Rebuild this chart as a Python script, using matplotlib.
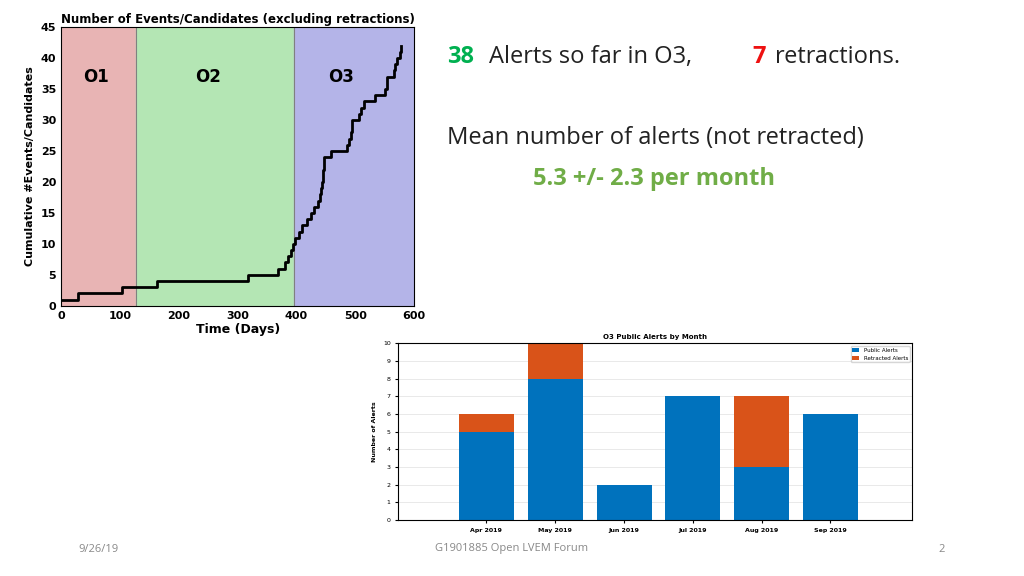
import matplotlib
matplotlib.use("Agg")
import matplotlib.pyplot as plt
import numpy as np

# Cumulative events data (day, cumulative count)
step_days = [1, 28, 103, 163, 317, 368, 380, 385, 390, 394, 397, 404, 410, 417, 425, 430, 436, 439, 441, 443, 445, 447,
             459, 486, 489, 492, 495, 506, 510, 515, 533, 550, 553, 565, 568, 571, 575, 578]
step_counts = [1, 2, 3, 4, 5, 6, 7, 8, 9, 10, 11, 12, 13, 14, 15, 16, 17, 18, 19, 20, 22, 24,
               25, 26, 27, 28, 30, 31, 32, 33, 34, 35, 37, 38, 39, 40, 41, 42]
run_names = ["O1", "O2", "O3"]
run_bounds = [(0, 128), (128, 396), (396, 600)]
run_label_x = [60, 250, 475]
run_colors = ["#e8b4b4", "#b4e6b4", "#b4b4e8"]

months = ["Apr 2019", "May 2019", "Jun 2019", "Jul 2019", "Aug 2019", "Sep 2019"]
public = [5, 8, 2, 7, 3, 6]
retracted = [1, 2, 0, 0, 4, 0]

fig = plt.figure(figsize=(10.24, 5.76), dpi=100)
fig.patch.set_facecolor("white")

ax = fig.add_axes([0.0596, 0.469, 0.345, 0.484])
for name, (a, b), lx, c in zip(run_names, run_bounds, run_label_x, run_colors):
    ax.axvspan(a, b, color=c, zorder=0)
    ax.text(lx, 37, name, ha="center", va="center", fontsize=12, fontweight="bold")
ax.axvline(128, color="#808080", lw=0.8)
ax.axvline(396, color="#808080", lw=0.8)
ax.step(step_days + [step_days[-1]], step_counts + [step_counts[-1]], where="post", color="black", lw=2)
ax.set_xlim(0, 600)
ax.set_ylim(0, 45)
ax.set_xticks(range(0, 601, 100))
ax.set_yticks(range(0, 46, 5))
ax.tick_params(labelsize=8, length=0)
for t in ax.get_xticklabels() + ax.get_yticklabels():
    t.set_fontweight("bold")
ax.set_xlabel("Time (Days)", fontsize=9, fontweight="bold", labelpad=2)
ax.set_ylabel("Cumulative #Events/Candidates", fontsize=8, fontweight="bold")
ax.set_title("Number of Events/Candidates (excluding retractions)", fontsize=8.5, fontweight="bold", pad=3)

bx = fig.add_axes([0.389, 0.097, 0.502, 0.307])
x = np.arange(1, len(months) + 1)
bx.bar(x, public, width=0.8, color="#0072bd", label="Public Alerts")
bx.bar(x, retracted, width=0.8, bottom=public, color="#d95319", label="Retracted Alerts")
bx.set_xlim(-0.28, 7.19)
bx.set_ylim(0, 10)
bx.set_yticks(range(0, 11))
bx.set_xticks(x)
bx.set_xticklabels(months)
bx.tick_params(labelsize=4.5, length=2)
bx.grid(axis="y", color="#e0e0e0", lw=0.5)
bx.set_axisbelow(True)
bx.set_ylabel("Number of Alerts", fontsize=4.5, fontweight="bold")
bx.set_title("O3 Public Alerts by Month", fontsize=5, fontweight="bold", pad=3)
for t in bx.get_xticklabels():
    t.set_fontweight("bold")
bx.legend(loc="upper right", fontsize=4, frameon=True, borderpad=0.3, handlelength=1.2)

ff = "Open Sans"
fs = 17
fig.text(447 / 1024, 1 - 57 / 576, "38", color="#00b050", fontsize=fs, fontweight="bold", va="center", family=ff)
fig.text(489 / 1024, 1 - 57 / 576, "Alerts so far in O3,", color="#222222", fontsize=fs, va="center", family=ff)
fig.text(752 / 1024, 1 - 57 / 576, "7", color="#ee1111", fontsize=fs, fontweight="bold", va="center", family=ff)
fig.text(775 / 1024, 1 - 57 / 576, "retractions.", color="#222222", fontsize=fs, va="center", family=ff)
fig.text(447 / 1024, 1 - 138 / 576, "Mean number of alerts (not retracted)", color="#222222", fontsize=fs,
         va="center", family=ff)
fig.text(533 / 1024, 1 - 179 / 576, "5.3 +/- 2.3 per month", color="#70ad47", fontsize=fs, fontweight="bold",
         va="center", family=ff)

fig.text(78 / 1024, 1 - 549 / 576, "9/26/19", color="#888888", fontsize=8, va="center", family=ff)
fig.text(512 / 1024, 1 - 549 / 576, "G1901885 Open LVEM Forum", color="#888888", fontsize=8, va="center",
         ha="center", family=ff)
fig.text(942 / 1024, 1 - 549 / 576, "2", color="#888888", fontsize=8, va="center", ha="center", family=ff)

fig.savefig("out.png", dpi=100)
